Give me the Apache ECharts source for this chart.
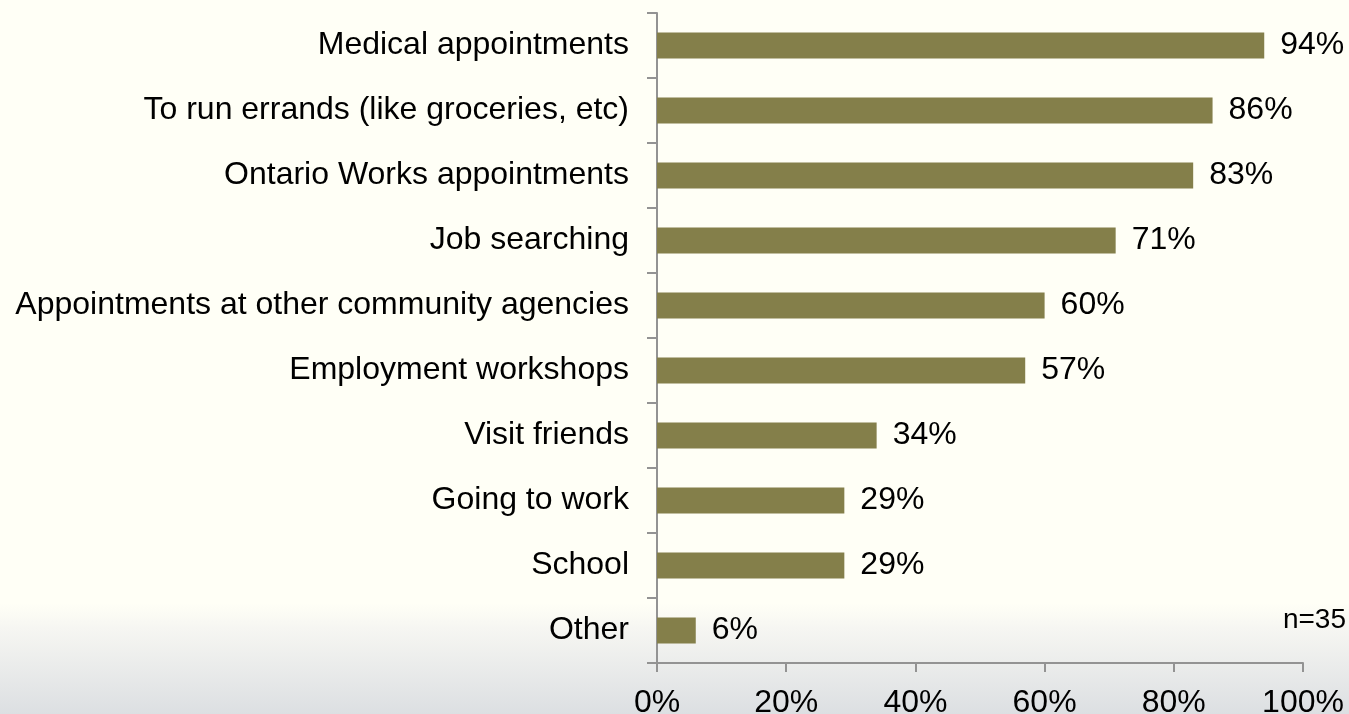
<!DOCTYPE html>
<html>
<head>
<meta charset="utf-8">
<script src="https://cdn.jsdelivr.net/npm/echarts@6/dist/echarts.min.js"></script>
<style>
html,body{margin:0;padding:0;}
#chart{width:1349px;height:714px;}
</style>
</head>
<body>
<div id="chart"></div>
<script>
// Reasons for using transit, share of respondents (%)
const categories = [
  'Medical appointments',
  'To run errands (like groceries, etc)',
  'Ontario Works appointments',
  'Job searching',
  'Appointments at other community agencies',
  'Employment workshops',
  'Visit friends',
  'Going to work',
  'School',
  'Other'
];
const values = [94, 86, 83, 71, 60, 57, 34, 29, 29, 6];
const xTicks = [0, 20, 40, 60, 80, 100];
const sampleNote = 'n=35';

const font = '"Liberation Sans", Arial, sans-serif';
const chart = echarts.init(document.getElementById('chart'));
chart.setOption({
  backgroundColor: {
    type: 'linear', x: 0, y: 0, x2: 0, y2: 1,
    colorStops: [
      { offset: 0, color: '#fffff6' },
      { offset: 0.845, color: '#fffff6' },
      { offset: 0.88, color: '#f6f6f2' },
      { offset: 1, color: '#dcdfe2' }
    ]
  },
  animation: false,
  grid: {
    left: 657, right: 46, top: 13, bottom: 51,
    containLabel: false,
    outerBoundsMode: 'none'
  },
  xAxis: {
    type: 'value',
    min: xTicks[0],
    max: xTicks[xTicks.length - 1],
    interval: xTicks[1] - xTicks[0],
    axisLine: { show: true, lineStyle: { color: '#939393', width: 2 } },
    axisTick: { show: true, length: 9, lineStyle: { color: '#939393', width: 2 } },
    splitLine: { show: false },
    axisLabel: {
      formatter: '{value}%',
      color: '#000',
      fontFamily: font,
      fontSize: 32,
      margin: 24
    }
  },
  yAxis: {
    type: 'category',
    data: categories,
    inverse: true,
    axisLine: { show: true, lineStyle: { color: '#939393', width: 2 } },
    axisTick: { show: true, length: 10, alignWithLabel: false, lineStyle: { color: '#939393', width: 2 } },
    axisLabel: {
      color: '#000',
      fontFamily: font,
      fontSize: 32,
      margin: 28,
      padding: [3, 0, 0, 0]
    }
  },
  series: [{
    type: 'bar',
    data: values,
    barWidth: '40%',
    itemStyle: { color: '#847f4a' },
    label: {
      show: true,
      position: 'right',
      distance: 16,
      formatter: '{c}%',
      color: '#000',
      fontFamily: font,
      fontSize: 32,
      padding: [3, 0, 0, 0]
    }
  }],
  graphic: [{
    type: 'text',
    right: 3,
    top: 606,
    style: {
      text: sampleNote,
      fill: '#000',
      font: '28px ' + font
    }
  }]
});
</script>
</body>
</html>
